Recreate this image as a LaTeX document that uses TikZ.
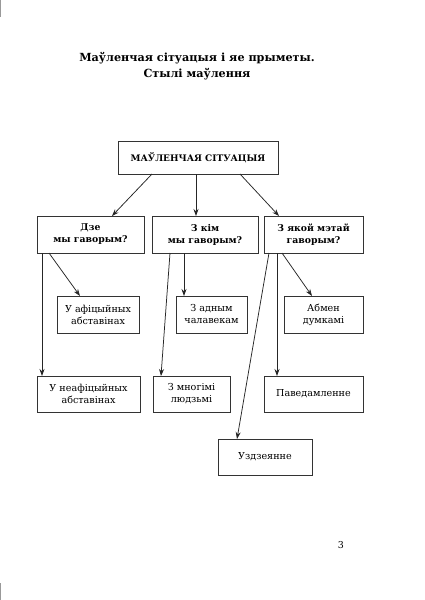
\documentclass[tikz,border=0pt]{standalone}
\usepackage{fontspec}
\setmainfont{DejaVu Serif}
\usetikzlibrary{arrows.meta}
\begin{document}
\begin{tikzpicture}[x=1pt,y=-1pt,
  boxst/.style={draw=black!80,line width=0.9pt,fill=white},
  conn/.style={draw=black!85,line width=0.75pt,-{Stealth[length=7pt,width=5pt]}},
  qtext/.style={font=\fontsize{9.3}{12}\selectfont\bfseries,align=center},
  atext/.style={font=\fontsize{9.6}{12}\selectfont,align=center}]
\useasboundingbox (0,0) rectangle (424,600);
\fill[white] (0,0) rectangle (424,600);
% crop marks
\draw[black!40,line width=0.8pt] (0.5,0) -- (0.5,17);
\draw[black!40,line width=0.8pt] (0.5,583) -- (0.5,600);
% title
\node[font=\fontsize{11.2}{15.5}\selectfont\bfseries,align=center] (title) at (197,66) {Маўленчая сітуацыя і яе прыметы.\\Стылі маўлення};
% boxes
\draw[boxst] (118,141) rectangle (278,174);
\node[font=\fontsize{9}{11}\selectfont\bfseries] (top) at (198,157.5) {МАЎЛЕНЧАЯ СІТУАЦЫЯ};
\coordinate (topL) at (152,174); \coordinate (topM) at (196,174); \coordinate (topR) at (240,174);

\draw[boxst] (37,216) rectangle (144,253);
\node[qtext] (q1) at (90.5,234.5) {Дзе\\мы гаворым?};
\draw[boxst] (152,216) rectangle (258,253);
\node[qtext] (q2) at (205,234.5) {З кім\\мы гаворым?};
\draw[boxst] (264,216) rectangle (363,253);
\node[qtext] (q3) at (313.5,234.5) {З якой мэтай\\гаворым?};

\draw[boxst] (57,296) rectangle (139,333);
\node[atext] (a1) at (98,314.5) {У афіцыйных\\абставінах};
\draw[boxst] (37,376) rectangle (140,412);
\node[atext] (a2) at (88.5,394) {У неафіцыйных\\абставінах};
\draw[boxst] (176,296) rectangle (247,333);
\node[atext] (b1) at (211.5,314.5) {З адным\\чалавекам};
\draw[boxst] (153,376) rectangle (230,412);
\node[atext] (b2) at (191.5,394) {З многімі\\людзьмі};
\draw[boxst] (284,296) rectangle (363,333);
\node[atext] (c1) at (323.5,314.5) {Абмен\\думкамі};
\draw[boxst] (264,376) rectangle (363,412);
\node[atext] (c2) at (313.5,394) {Паведамленне};
\draw[boxst] (218,439) rectangle (312,475);
\node[atext] (c3) at (265,457) {Уздзеянне};

% connector endpoints
\coordinate (s1) at (112,216); \coordinate (s2) at (196,216); \coordinate (s3) at (279,216);
\coordinate (l1) at (42,253); \coordinate (l1e) at (42,376);
\coordinate (l2) at (49,253); \coordinate (l2e) at (80,296);
\coordinate (m1) at (184,253); \coordinate (m1e) at (184,296);
\coordinate (m2) at (170,253); \coordinate (m2e) at (161,376);
\coordinate (r1) at (269,253); \coordinate (r1e) at (237,439);
\coordinate (r2) at (277,253); \coordinate (r2e) at (277,376);
\coordinate (r3) at (282,253); \coordinate (r3e) at (312,296);

\draw[conn] (topL) -- (s1);
\draw[conn] (topM) -- (s2);
\draw[conn] (topR) -- (s3);
\draw[conn] (l1) -- (l1e);
\draw[conn] (l2) -- (l2e);
\draw[conn] (m1) -- (m1e);
\draw[conn] (m2) -- (m2e);
\draw[conn] (r1) -- (r1e);
\draw[conn] (r2) -- (r2e);
\draw[conn] (r3) -- (r3e);

\node[font=\fontsize{9.5}{11}\selectfont] (pg) at (341,545) {3};
\end{tikzpicture}
\end{document}
